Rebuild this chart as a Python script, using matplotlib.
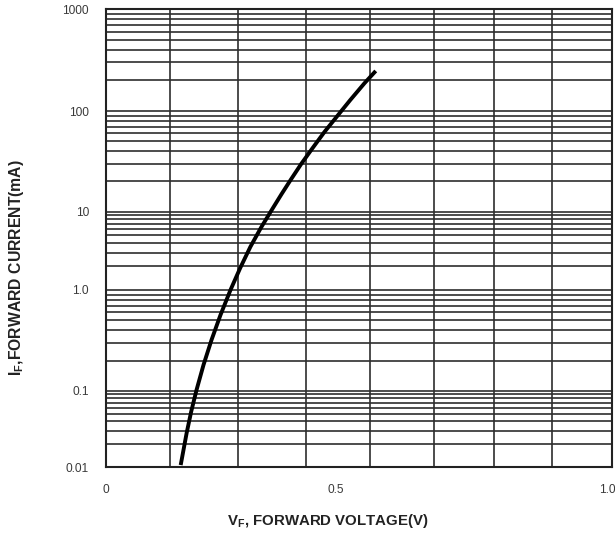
import numpy as np
import matplotlib
matplotlib.use("Agg")
import matplotlib.pyplot as plt

# ---- data ----
vf_volts = [0.1628, 0.1756, 0.1854, 0.1971, 0.2123, 0.2297, 0.2492,
            0.2709, 0.2920, 0.3142, 0.3380, 0.3626, 0.3819, 0.4012,
            0.4244, 0.4492, 0.4748, 0.5013, 0.5262, 0.5524, 0.5733]
if_ma = [0.0107, 0.0279, 0.0531, 0.102, 0.181, 0.320, 0.566,
         1.0, 1.91, 3.57, 6.38, 10.8, 15.0, 20.6,
         29.8, 42.9, 61.9, 87.8, 128, 187, 247]

x_tick_vals = [0, 0.5, 1.0]
x_tick_labels = ["0", "0.5", "1.0"]
y_tick_vals = [0.01, 0.1, 1, 10, 100, 1000]
y_tick_labels = ["0.01", "0.1", "1.0", "10", "100", "1000"]
x_grid_vals = [0.140, 0.287, 0.434, 0.563, 0.681, 0.791, 0.899]

# ---- non-uniform axis scales of the original drawing ----
x_knots = [0.0, 0.5, 1.00925]
x_knot_frac = [0.0, 0.4549, 1.0]
y_knots = [-2, -1, 0, 1, 2, 3]
y_knot_frac = [0.0, 0.1665, 0.3869, 0.5577, 0.7774, 1.0]


def pw(v, xp, fp):
    v = np.asarray(v, dtype=float)
    out = np.interp(v, xp, fp)
    lo = v < xp[0]
    hi = v > xp[-1]
    s0 = (fp[1] - fp[0]) / (xp[1] - xp[0])
    s1 = (fp[-1] - fp[-2]) / (xp[-1] - xp[-2])
    out = np.where(lo, fp[0] + (v - xp[0]) * s0, out)
    out = np.where(hi, fp[-1] + (v - xp[-1]) * s1, out)
    return out


def xf(x):
    return pw(x, x_knots, x_knot_frac)


def xi(f):
    return pw(f, x_knot_frac, x_knots)


def yf(y):
    y = np.asarray(y, dtype=float)
    ly = np.log10(np.clip(y, 1e-300, None))
    return pw(ly, y_knots, y_knot_frac)


def yi(f):
    return 10.0 ** pw(f, y_knot_frac, y_knots)


plt.rcParams["font.family"] = ["Liberation Sans", "DejaVu Sans"]
plt.rcParams["mathtext.fontset"] = "custom"
plt.rcParams["mathtext.rm"] = "Liberation Sans"
plt.rcParams["mathtext.bf"] = "Liberation Sans:bold"

fig = plt.figure(figsize=(6.15, 5.37), dpi=100)
ax = fig.add_axes([105.7 / 615, (537 - 467.3) / 537,
                   (612 - 105.7) / 615, (467.3 - 9) / 537])

ax.set_xscale("function", functions=(xf, xi))
ax.set_yscale("function", functions=(yf, yi))
ax.set_xlim(x_knots[0], x_knots[-1])
ax.set_ylim(0.01, 1000)

gc = "#2e2e2e"
ax.set_xticks(x_tick_vals)
ax.set_xticklabels(x_tick_labels)
ax.set_xticks(x_grid_vals, minor=True)
ax.xaxis.grid(True, which="minor", color=gc, lw=1.2)
ax.xaxis.grid(False, which="major")

minor_y = [k * 10.0 ** d for d in range(-2, 3) for k in range(2, 10)]
ax.set_yticks(y_tick_vals)
ax.set_yticklabels(y_tick_labels)
ax.set_yticks(minor_y, minor=True)
ax.yaxis.set_minor_formatter(matplotlib.ticker.NullFormatter())
ax.yaxis.grid(True, which="both", color=gc, lw=1.2)

ax.tick_params(which="both", length=0, labelsize=8.6, colors="#3a3a3a")
ax.tick_params(axis="y", pad=12)
ax.tick_params(axis="x", pad=12)

for s in ax.spines.values():
    s.set_color("#222222")
    s.set_linewidth(1.5)

ax.plot(vf_volts, if_ma, color="black", lw=2.8, solid_capstyle="butt",
        solid_joinstyle="round", zorder=5)

fig.text(328 / 615, 1 - 521 / 537, r"$\mathbf{V}_{\mathbf{F}}$, FORWARD VOLTAGE(V)",
         ha="center", va="center", fontsize=10.8, fontweight="bold", color="#222222")
fig.text(17 / 615, 1 - 268 / 537, r"$\mathbf{I}_{\mathbf{F}}$,FORWARD CURRENT(mA)",
         ha="center", va="center", rotation=90, fontsize=11.3, fontweight="bold",
         color="#222222")

fig.savefig("out.png", dpi=100)
